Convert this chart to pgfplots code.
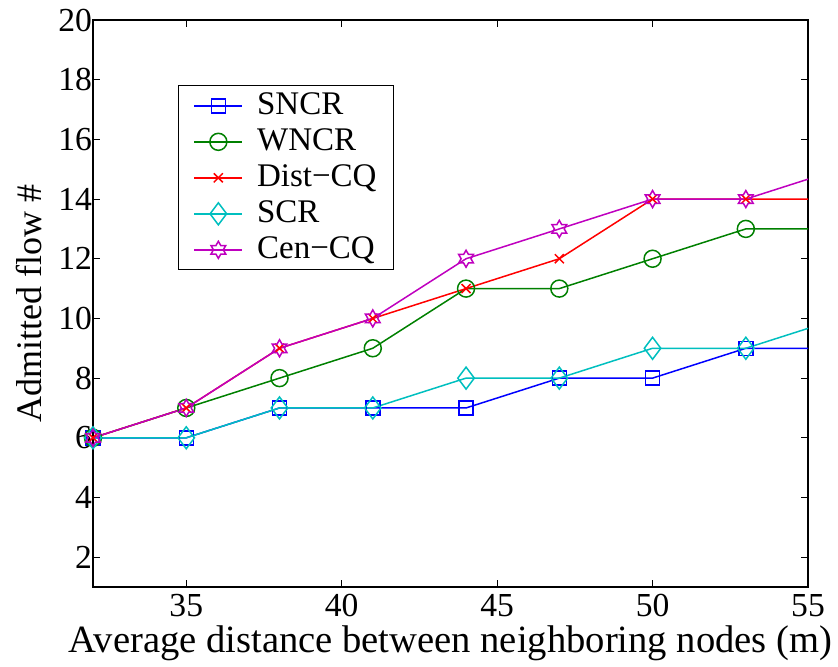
\documentclass[border=0pt]{standalone}
\usepackage{fontspec}
\setmainfont{Liberation Serif}
\usepackage{pgfplots}
\pgfplotsset{compat=1.18}

\definecolor{mblue}{rgb}{0,0,1}
\definecolor{mgreen}{rgb}{0,0.5,0}
\definecolor{mred}{rgb}{1,0,0}
\definecolor{mcyan}{rgb}{0,0.75,0.75}
\definecolor{mmag}{rgb}{0.75,0,0.75}

% six-pointed star outline
\pgfdeclareplotmark{hexagram}{%
  \pgfpathmoveto{\pgfpointpolar{90}{\pgfplotmarksize}}%
  \pgfpathlineto{\pgfpointpolar{120}{0.577\pgfplotmarksize}}%
  \pgfpathlineto{\pgfpointpolar{150}{\pgfplotmarksize}}%
  \pgfpathlineto{\pgfpointpolar{180}{0.577\pgfplotmarksize}}%
  \pgfpathlineto{\pgfpointpolar{210}{\pgfplotmarksize}}%
  \pgfpathlineto{\pgfpointpolar{240}{0.577\pgfplotmarksize}}%
  \pgfpathlineto{\pgfpointpolar{270}{\pgfplotmarksize}}%
  \pgfpathlineto{\pgfpointpolar{300}{0.577\pgfplotmarksize}}%
  \pgfpathlineto{\pgfpointpolar{330}{\pgfplotmarksize}}%
  \pgfpathlineto{\pgfpointpolar{0}{0.577\pgfplotmarksize}}%
  \pgfpathlineto{\pgfpointpolar{30}{\pgfplotmarksize}}%
  \pgfpathlineto{\pgfpointpolar{60}{0.577\pgfplotmarksize}}%
  \pgfpathclose
  \pgfusepathqstroke
}

\begin{document}
\begin{tikzpicture}
\useasboundingbox (-46.5pt,-39.5pt) rectangle (372.5pt,293.5pt);
\begin{axis}[
  scale only axis,
  width=357.5pt, height=283.5pt,
  xmin=32, xmax=55, ymin=1, ymax=20,
  xtick={35,40,45,50,55},
  ytick={2,4,...,20},
  tick align=inside,
  tick pos=both,
  major tick length=3.5pt,
  axis line style={black, line width=0.6pt},
  tick style={black, line width=0.5pt},
  tick label style={font=\fontsize{16.8}{18}\selectfont},
  yticklabel style={xshift=3pt},
  /pgf/number format/assume math mode=true,
  xlabel style={font=\fontsize{19.3}{21}\selectfont},
  ylabel style={font=\fontsize{18}{20}\selectfont},
  xlabel={Average distance between neighboring nodes (m)},
  ylabel={Admitted flow \#},
  xlabel shift=-2.5pt,
  ylabel shift=1.5pt,
  every axis plot/.append style={line width=0.75pt},
  legend style={
    at={(0.1189,0.885)}, anchor=north west,
    font=\fontsize{16.5}{18}\selectfont,
    draw=black, line width=0.6pt,
    row sep=0pt, column sep=6pt,
    inner xsep=7.5pt, inner ysep=1pt,
    nodes={inner sep=1pt, text height=12.5pt, text depth=3.5pt},
  },
  legend cell align=left,
  legend image post style={line width=0.75pt},
  legend image code/.code={%
    \draw[mark repeat=2,mark phase=2] plot coordinates {(0pt,0pt) (12pt,0pt) (24pt,0pt)};},
]
\addplot[mblue, mark=square, mark size=3.5pt]
  coordinates {(32,6) (35,6) (38,7) (41,7) (44,7) (47,8) (50,8) (53,9) (56,9)};
\addplot[mgreen, mark=o, mark size=4.25pt]
  coordinates {(32,6) (35,7) (38,8) (41,9) (44,11) (47,11) (50,12) (53,13) (56,13)};
\addplot[mred, mark=x, mark size=3.2pt]
  coordinates {(32,6) (35,7) (38,9) (41,10) (44,11) (47,12) (50,14) (53,14) (56,14)};
\addplot[mcyan, mark=diamond, mark size=5.5pt]
  coordinates {(32,6) (35,6) (38,7) (41,7) (44,8) (47,8) (50,9) (53,9) (56,10)};
\addplot[mmag, mark=hexagram, mark size=4.25pt]
  coordinates {(32,6) (35,7) (38,9) (41,10) (44,12) (47,13) (50,14) (53,14) (56,15)};
\legend{SNCR, WNCR, Dist−CQ, SCR, Cen−CQ}
\end{axis}
\end{tikzpicture}
\end{document}
